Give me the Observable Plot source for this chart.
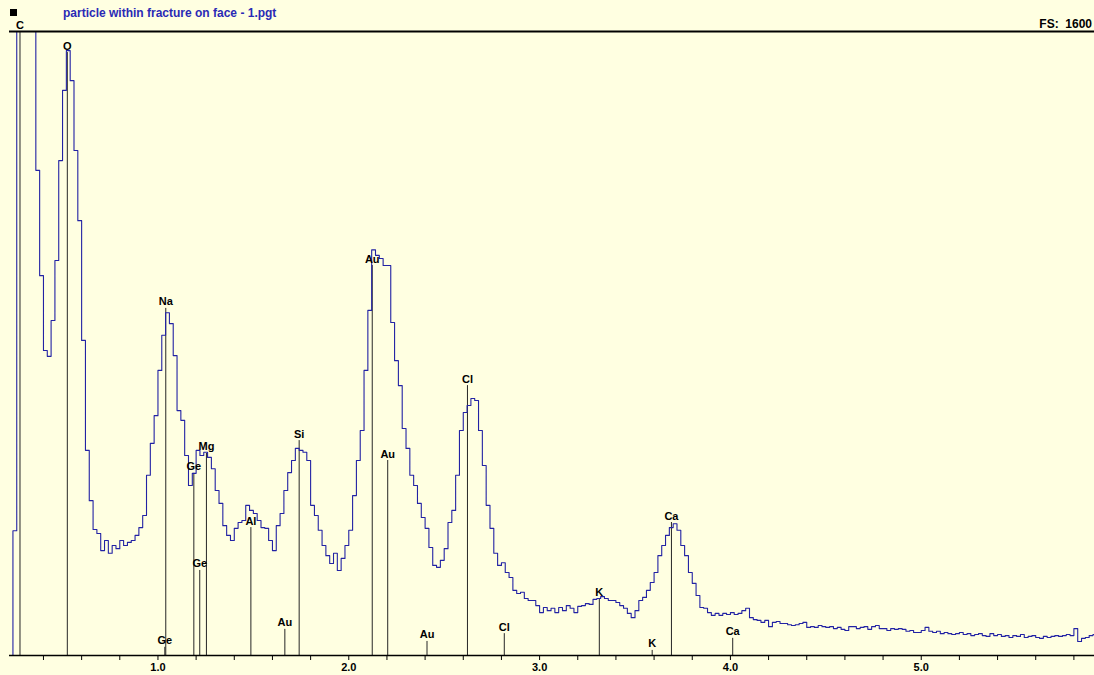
<!DOCTYPE html>
<html>
<head>
<meta charset="utf-8">
<script src="https://cdn.jsdelivr.net/npm/d3@7"></script>
<script src="https://cdn.jsdelivr.net/npm/@observablehq/plot@0.6"></script>
<style>
  html, body { margin: 0; padding: 0; background: #ffffe1; }
  #wrap { position: relative; width: 1094px; height: 675px; overflow: hidden; background: #ffffe1; }
  #wrap svg { position: absolute; left: 0; top: 0; }
  .hdr { position: absolute; font-family: "Liberation Sans", Arial, sans-serif; font-weight: bold; font-size: 12px; line-height: 13px; white-space: nowrap; }
  #square { position: absolute; left: 10px; top: 9px; width: 7px; height: 7px; background: #000; }
</style>
</head>
<body>
<div id="wrap">
  <div id="square"></div>
  <div class="hdr" id="title" style="left:63px; top:7px; color:#2a2ab5;">particle within fracture on face - 1.pgt</div>
  <div class="hdr" id="fs" style="right:2px; top:18px; color:#000;">FS:&nbsp; 1600</div>
</div>
<script>
// ---- data ----
const channelStart = 0.22;   // keV, first channel lower edge
const channelWidth = 0.02;   // keV per channel
const counts = [
  0, 320, 2400, 2800, 3000, 2700, 2200, 1244, 974, 782,
  767, 859, 1013, 1269, 1449, 1551, 1474, 1295, 1115, 808,
  526, 397, 323, 313, 269, 295, 262, 282, 274, 295,
  282, 290, 295, 308, 328, 359, 462, 544, 615, 731,
  821, 879, 851, 769, 628, 603, 513, 436, 467, 526,
  513, 521, 508, 479, 423, 390, 333, 308, 295, 326,
  341, 346, 385, 372, 364, 346, 328, 326, 295, 269,
  333, 364, 423, 469, 500, 531, 526, 521, 500, 385,
  359, 321, 282, 256, 236, 262, 218, 249, 282, 321,
  410, 500, 577, 731, 885, 1040, 1026, 1018, 1000, 1000,
  854, 756, 692, 582, 531, 462, 436, 390, 354, 326,
  277, 231, 226, 244, 274, 341, 372, 462, 577, 623,
  641, 659, 654, 577, 487, 385, 326, 262, 231, 238,
  213, 200, 167, 159, 162, 146, 141, 141, 128, 110,
  123, 115, 121, 110, 123, 115, 128, 121, 110, 126,
  128, 133, 131, 144, 146, 151, 146, 141, 141, 136,
  128, 121, 108, 97, 115, 141, 149, 167, 187, 213,
  256, 282, 308, 328, 338, 321, 282, 256, 213, 185,
  154, 123, 121, 110, 103, 108, 103, 108, 105, 110,
  105, 108, 115, 121, 97, 92, 90, 85, 90, 74,
  85, 87, 82, 82, 79, 77, 79, 82, 85, 72,
  74, 72, 77, 74, 72, 74, 69, 72, 67, 64,
  74, 74, 69, 72, 74, 67, 74, 77, 69, 69,
  64, 69, 67, 69, 67, 62, 64, 59, 59, 64,
  72, 62, 59, 62, 56, 59, 56, 54, 56, 59,
  54, 56, 51, 54, 56, 51, 49, 56, 51, 54,
  49, 51, 46, 51, 49, 54, 46, 49, 51, 46,
  44, 49, 46, 49, 51, 49, 51, 54, 51, 69,
  36, 44, 46, 51, 54, 51
];

const markerElements = ["C", "O", "Na", "Ge", "Ge", "Ge", "Mg", "Al", "Au", "Si", "Au", "Au", "Au", "Cl", "Cl", "K", "K", "Ca", "Ca"];
const markerEnergies = [0.277, 0.525, 1.041, 1.036, 1.188, 1.219, 1.254, 1.487, 1.665, 1.740, 2.123, 2.204, 2.410, 2.622, 2.815, 3.313, 3.590, 3.691, 4.012];
const markerHeights  = [1600, 1546, 890, 21, 467, 218, 518, 328, 67, 551, 1000, 500, 36, 692, 56, 146, 13, 341, 44];

const tickValues = [0.4, 0.6, 0.8, 1.0, 1.2, 1.4, 1.6, 1.8, 2.0, 2.2, 2.4, 2.6, 2.8, 3.0, 3.2, 3.4, 3.6, 3.8, 4.0, 4.2, 4.4, 4.6, 4.8, 5.0, 5.2, 5.4, 5.6, 5.8];
const xDomain = [0.222, 5.908];
const fullScale = 1600;

// ---- build tables ----
const spectrum = counts.map((c, i) => ({e: channelStart + i * channelWidth, c}));
spectrum.push({e: channelStart + counts.length * channelWidth, c: counts[counts.length - 1]});
const markers = markerElements.map((el, i) => ({el, e: markerEnergies[i], h: markerHeights[i]}));

const chart = Plot.plot({
  width: 1094,
  height: 675,
  marginLeft: 9,
  marginRight: 0,
  marginTop: 31,
  marginBottom: 20,
  x: {domain: xDomain},
  y: {domain: [0, fullScale], axis: null},
  style: {background: "transparent", fontFamily: "'Liberation Sans', Arial, sans-serif", fontSize: "11px", fontWeight: "bold", color: "#000", overflow: "visible"},
  marks: [
    Plot.ruleX(markers, {x: "e", y1: 0, y2: "h", stroke: "#262626", strokeWidth: 1}),
    Plot.line(spectrum, {x: "e", y: "c", curve: "step-after", stroke: "#2222a4", strokeWidth: 1.1, clip: true}),
    Plot.text(markers, {x: "e", y: "h", text: "el", lineAnchor: "bottom", dy: -3, fill: "#000", fontWeight: "bold", fontSize: 11}),
    Plot.ruleY([0], {stroke: "#000", strokeWidth: 1.3}),
    Plot.ruleY([fullScale], {stroke: "#000", strokeWidth: 1.8}),
    Plot.axisX({
      ticks: tickValues,
      tickSize: 5,
      tickPadding: 3,
      label: null,
      stroke: "#000",
      fill: "#000",
      tickFormat: d => Math.abs(d - Math.round(d)) < 1e-9 ? d.toFixed(1) : ""
    })
  ]
});
document.getElementById("wrap").appendChild(chart);
</script>
</body>
</html>
